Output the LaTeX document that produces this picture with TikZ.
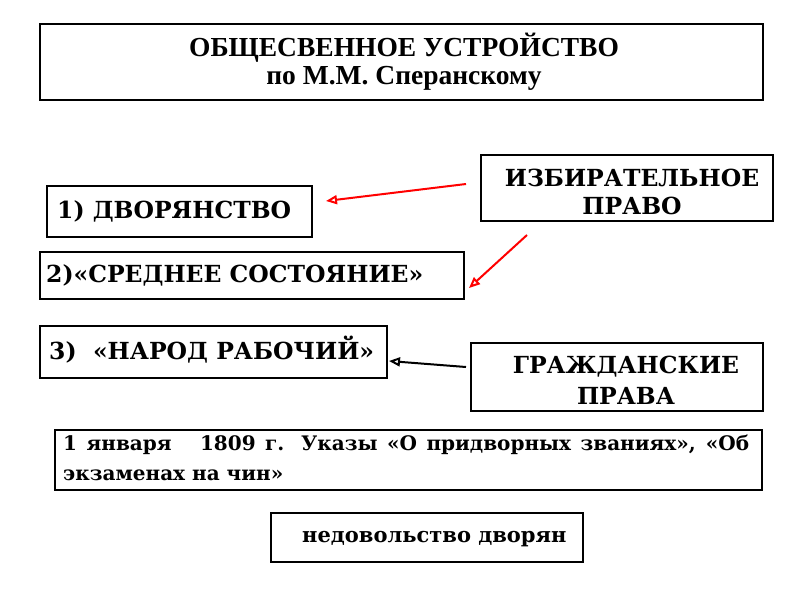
\documentclass[tikz,border=0pt]{standalone}
\usepackage{fontspec}
\setmainfont{DejaVu Serif}
\newfontfamily\titlefont{Liberation Serif}
\usetikzlibrary{arrows.meta}
\tikzset{
  box/.style={draw=black, line width=2pt, fill=white, inner sep=0pt},
  lbl/.style={font=\bfseries\fontsize{23.5}{30}\selectfont, anchor=west, inner sep=0pt},
  redarr/.style={draw=red, line width=2pt, -{Triangle[open, length=11pt, width=9pt]}},
  blkarr/.style={draw=black, line width=2pt, -{Triangle[open, length=11pt, width=9pt]}},
}
\begin{document}
\begin{tikzpicture}[x=1pt,y=-1pt]
\useasboundingbox (0,0) rectangle (800,600);
% boxes
\draw[box] (40,24) rectangle (763,100);
\node[font=\titlefont\bfseries\fontsize{27.5}{28}\selectfont, align=center] (title) at (404,62) {ОБЩЕСВЕННОЕ УСТРОЙСТВО\\по М.М. Сперанскому};

\draw[box] (47,186) rectangle (312,237);
\node[lbl] (dv) at (57,211) {1) ДВОРЯНСТВО};

\draw[box] (481,155) rectangle (773,221);
\node[lbl, anchor=center, align=center, font=\bfseries\fontsize{23.5}{28}\selectfont] (izb) at (632,192) {ИЗБИРАТЕЛЬНОЕ\\ПРАВО};

\draw[box] (40,252) rectangle (464,299);
\node[lbl] (sr) at (46,275) {2)«СРЕДНЕЕ СОСТОЯНИЕ»};

\draw[box] (40,326) rectangle (387,378);
\node[lbl] (nr) at (49,350) {3)~~«НАРОД РАБОЧИЙ»};

\draw[box] (471,343) rectangle (763,411);
\node[lbl, anchor=center, align=center, font=\bfseries\fontsize{23.5}{31}\selectfont] (gr) at (626,380) {ГРАЖДАНСКИЕ\\ПРАВА};

\draw[box] (55,430) rectangle (762,490);
\node[font=\bfseries\fontsize{20}{30}\selectfont, text width=686pt, align=justify, anchor=north west, inner sep=0pt] (uk) at (63,435) {1 января~~ 1809 г. Указы «О придворных званиях», «Об экзаменах на чин»};

\draw[box] (271,513) rectangle (583,562);
\node[lbl, font=\bfseries\fontsize{21}{22}\selectfont] (nd) at (302,539) {недовольство дворян};

% arrows
\coordinate (a1s) at (466,184); \coordinate (a1e) at (326,201);
\coordinate (a2s) at (527,235); \coordinate (a2e) at (469,288);
\coordinate (a3s) at (466,367); \coordinate (a3e) at (389,361);
\draw[redarr] (a1s) -- (a1e);
\draw[redarr] (a2s) -- (a2e);
\draw[blkarr] (a3s) -- (a3e);
\end{tikzpicture}
\end{document}
